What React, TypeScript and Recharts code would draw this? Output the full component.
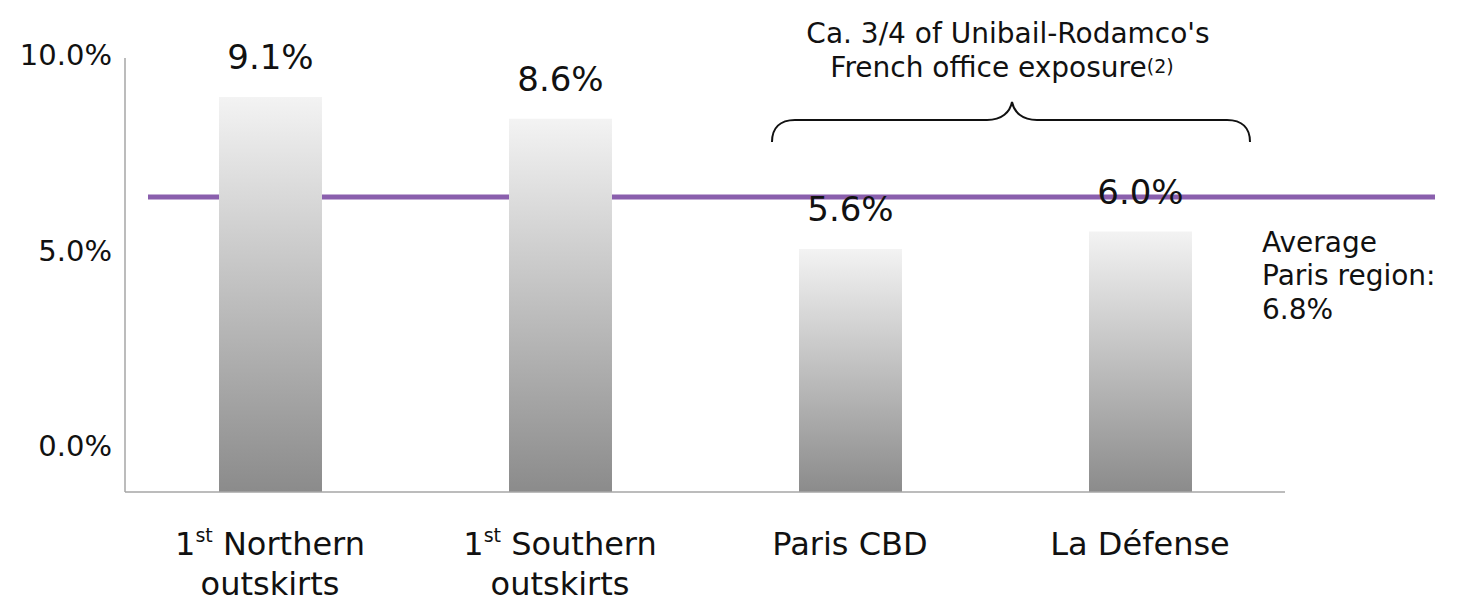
import React from 'react';
import { BarChart, Bar, XAxis, YAxis, ReferenceLine, LabelList } from 'recharts';

// Office vacancy rate by Paris sub-market
const categories = ['1st Northern\noutskirts', '1st Southern\noutskirts', 'Paris CBD', 'La Défense'];
const vacancyRates = [9.1, 8.6, 5.6, 6.0];
const parisAverage = 6.8;
const tickValues = [0, 5, 10];
const exposureNote = ["Ca. 3/4 of Unibail-Rodamco's", 'French office exposure'];
const exposureRef = '(2)';
const averageNote = ['Average', 'Paris region:'];

const data = categories.map((name, i) => ({ name, rate: vacancyRates[i] }));

const FONT = "'DejaVu Sans', Verdana, sans-serif";
const INK = '#111';
const AXIS = '#a6a6a6';
const fmt = (v: number) => `${v.toFixed(1)}%`;

const CategoryTick = ({ x, y, payload }: any) => {
  const lines = String(payload.value).split('\n');
  return (
    <g>
      {lines.map((line, i) => {
        const m = line.match(/^(\d+)(st|nd|rd|th)(\s.*)$/);
        const ty = y + 63 + i * 40;
        return (
          <text
            key={i}
            x={x}
            y={ty}
            textAnchor="middle"
            fontFamily={FONT}
            fontSize={32}
            fill={INK}
            style={{ whiteSpace: 'pre' }}
          >
            {m ? (
              <>
                <tspan>{m[1]}</tspan>
                <tspan dy={-13} fontSize={19}>{m[2]}</tspan>
                <tspan dy={13}>{m[3]}</tspan>
              </>
            ) : (
              line
            )}
          </text>
        );
      })}
    </g>
  );
};

const PercentTick = ({ x, y, payload }: any) => (
  <text x={x} y={y - 3} dy="0.355em" textAnchor="end" fontFamily={FONT} fontSize={29} fill={INK}>
    {fmt(payload.value)}
  </text>
);

const ValueLabel = ({ x, y, width, value }: any) => (
  <text
    x={Number(x) + Number(width) / 2}
    y={Number(y) - 28}
    textAnchor="middle"
    fontFamily={FONT}
    fontSize={34}
    fill={INK}
  >
    {fmt(Number(value))}
  </text>
);

// Average line runs from just right of the y axis out past the plot area
const AverageLine = ({ x1, y1, x2, y2 }: any) => (
  <line x1={x1 + 23} y1={y1} x2={x2 + 150} y2={y2} stroke="#8a5fad" strokeWidth={5} />
);

export default function App() {
  return (
    <div style={{ position: 'absolute', left: 0, top: 0, width: 1466, height: 601, background: '#fff' }}>
      <BarChart
        width={1466}
        height={601}
        data={data}
        margin={{ top: 58, right: 181, bottom: 0, left: 0 }}
      >
        <defs>
          <linearGradient id="barShade" x1="0" y1="0" x2="0" y2="1">
            <stop offset="0%" stopColor="#f3f3f3" />
            <stop offset="100%" stopColor="#8b8b8b" />
          </linearGradient>
        </defs>
        <XAxis
          dataKey="name"
          height={109}
          axisLine={{ stroke: AXIS, strokeWidth: 1.5 }}
          tickLine={false}
          tickSize={0}
          tickMargin={0}
          interval={0}
          tick={<CategoryTick />}
        />
        <YAxis yAxisId="rate" type="number" domain={[0, 10]} allowDataOverflow hide width={0} />
        <YAxis
          yAxisId="ticks"
          type="number"
          domain={[-1.1, 10]}
          ticks={tickValues}
          allowDataOverflow
          width={125}
          axisLine={{ stroke: AXIS, strokeWidth: 1.5 }}
          tickLine={false}
          tickSize={0}
          tickMargin={13}
          tick={<PercentTick />}
        />
        <ReferenceLine yAxisId="rate" y={parisAverage} shape={AverageLine} zIndex={100} />
        <Bar yAxisId="rate" dataKey="rate" barSize={103} fill="url(#barShade)" isAnimationActive={false}>
          <LabelList dataKey="rate" content={ValueLabel} />
        </Bar>
      </BarChart>
      <svg
        width={1466}
        height={601}
        style={{ position: 'absolute', left: 0, top: 0, pointerEvents: 'none' }}
      >
        <text x={1008} y={43} textAnchor="middle" fontFamily={FONT} fontSize={28} fill={INK}>
          {exposureNote[0]}
        </text>
        <text x={1002} y={77} textAnchor="middle" fontFamily={FONT} fontSize={28} fill={INK}>
          {exposureNote[1]}
          <tspan dy={-4} fontSize={19}>{exposureRef}</tspan>
        </text>
        <path
          d="M772,142 C772,128 780,120 795,120 L987,120 C1002,120 1010,112 1012,102 C1014,112 1022,120 1037,120 L1227,120 C1242,120 1250,128 1250,142"
          fill="none"
          stroke={INK}
          strokeWidth={2}
        />
        {averageNote.map((t, i) => (
          <text key={t} x={1262} y={252 + i * 33} fontFamily={FONT} fontSize={28} fill={INK}>
            {t}
          </text>
        ))}
        <text x={1262} y={319} fontFamily={FONT} fontSize={28} fill={INK}>
          {fmt(parisAverage)}
        </text>
      </svg>
    </div>
  );
}
